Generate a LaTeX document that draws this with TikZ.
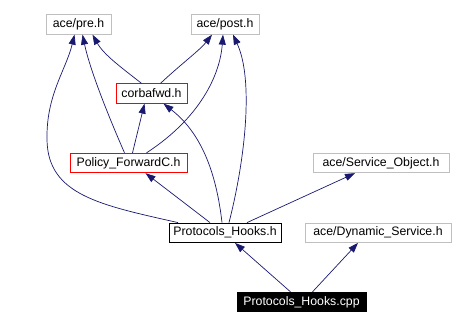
\documentclass[tikz,border=0pt]{standalone}
\usepackage{fontspec}
\setmainfont{Liberation Sans}
\usetikzlibrary{arrows.meta}
\definecolor{edgeblue}{HTML}{191970}
\definecolor{grayframe}{HTML}{BFBFBF}
\begin{document}
\begin{tikzpicture}[x=1pt,y=-1pt,
  box/.style={draw, rectangle, inner sep=0pt, minimum height=19.5pt, line width=0.8pt,
              font=\fontsize{12.3}{14}\selectfont},
  ext/.style={box, draw=grayframe},
  red/.style={box, draw=red},
  plain/.style={box, draw=black},
  self/.style={box, draw=black, fill=black, text=white},
  dep/.style={draw=edgeblue, line width=0.7pt, -{Triangle[length=10pt,width=7pt]}, fill=none}]
\useasboundingbox (0,0) rectangle (465,326);

% header files
\node[ext,   minimum width=65pt]  (pre)      at (78.5,24.5)  {ace/pre.h};
\node[ext,   minimum width=68pt]  (post)     at (225,24.5)   {ace/post.h};
\node[red,   minimum width=71pt]  (corbafwd) at (151.5,93.5) {corbafwd.h};
\node[red,   minimum width=117pt] (policy)   at (128.5,163)  {Policy\_ForwardC.h};
\node[ext,   minimum width=136pt] (service)  at (381,163)    {ace/Service\_Object.h};
\node[plain, minimum width=112pt] (hooks)    at (225,232.75) {Protocols\_Hooks.h};
\node[ext,   minimum width=146pt] (dynamic)  at (378,232.75) {ace/Dynamic\_Service.h};
\node[self,  minimum width=129pt] (cpp)      at (301.5,302)  {Protocols\_Hooks.cpp};

% include dependencies
\draw[dep] ([xshift=-11pt]cpp.north) -- ([xshift=10pt]hooks.south);
\draw[dep] ([xshift=11pt]cpp.north) -- ([xshift=-20pt]dynamic.south);
\draw[dep] ([xshift=22pt]hooks.north) -- ([xshift=-26pt]service.south);
\draw[dep] ([xshift=-15pt]hooks.north) -- ([xshift=17pt]policy.south);
\draw[dep] ([xshift=-3pt]hooks.north) .. controls (216,170) and (200,132) .. ([xshift=12pt]corbafwd.south);
\draw[dep] ([xshift=4pt]hooks.north) .. controls (245,160) and (254,80) .. ([xshift=8pt]post.south);
\draw[dep] ([xshift=-47pt]hooks.north) .. controls (100,205) and (48,195) .. (47,140)
           .. controls (46,95) and (66,70) .. ([xshift=-4pt]pre.south);
\draw[dep] ([xshift=-4pt]policy.north) .. controls (108,115) and (90,70) .. ([xshift=4pt]pre.south);
\draw[dep] ([xshift=4pt]policy.north) -- ([xshift=-7pt]corbafwd.south);
\draw[dep] ([xshift=18pt]policy.north) .. controls (200,118) and (220,75) .. ([xshift=-2pt]post.south);
\draw[dep] ([xshift=-10pt]corbafwd.north) .. controls (122,68) and (104,55) .. ([xshift=14pt]pre.south);
\draw[dep] ([xshift=9pt]corbafwd.north) .. controls (180,65) and (200,50) .. ([xshift=-13pt]post.south);
\end{tikzpicture}
\end{document}
